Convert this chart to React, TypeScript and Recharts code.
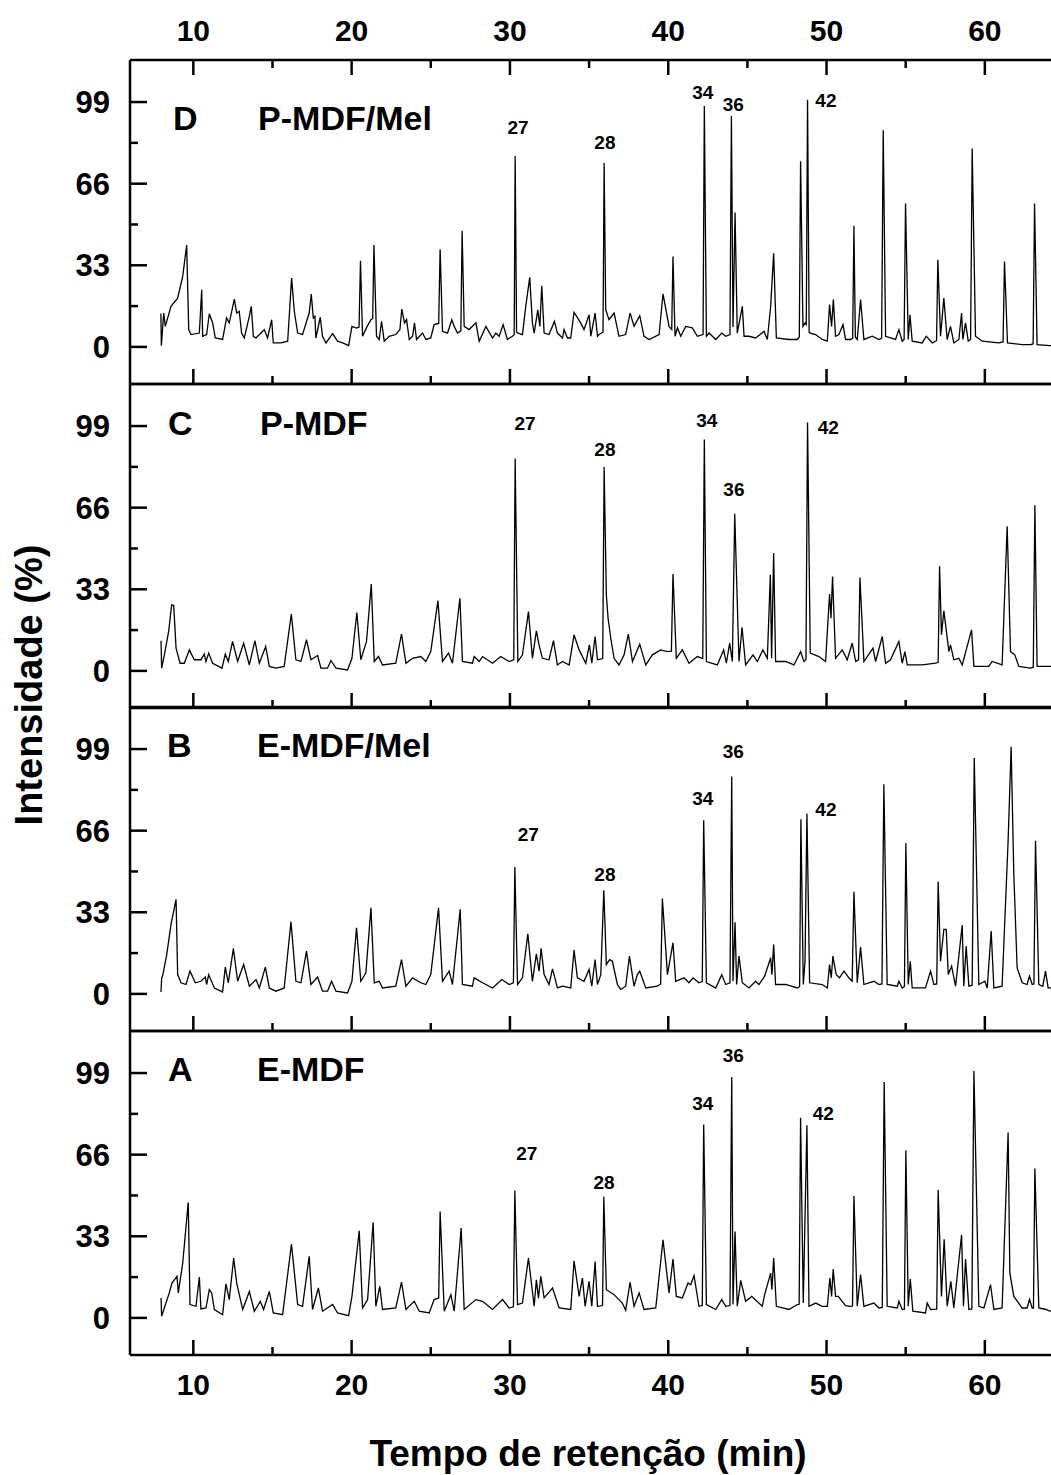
import { LineChart, Line, XAxis, YAxis, ReferenceDot } from 'recharts'

type Pt = [number, number]
type Peak = { n: string; t: number; v: number }

const xTicks = [10, 15, 20, 25, 30, 35, 40, 45, 50, 55, 60]
const yTicks = [0, 16.5, 33, 49.5, 66, 82.5, 99]
const yLabelTicks = [0, 33, 66, 99]

// D: P-MDF/Mel
const pointsD: Pt[] = [
  [7.95, 13.5], [7.98, 0.5], [8.13, 13.7], [8.23, 8.3], [8.59, 16.4], [9.01, 19.7], [9.33, 28.5], [9.58, 41.2],
  [9.71, 7.0], [9.85, 5.0], [10.38, 5.6], [10.53, 23.1], [10.59, 4.3], [10.84, 5.0], [11.01, 13.4], [11.22, 9.7],
  [11.39, 3.6], [11.85, 3.0], [12.1, 11.7], [12.27, 9.7], [12.59, 19.3], [12.74, 13.7], [12.9, 14.4], [13.05, 5.6],
  [13.22, 3.6], [13.54, 12.4], [13.66, 16.4], [13.79, 4.3], [13.96, 3.6], [14.38, 6.3], [14.48, 7.0], [14.69, 3.6],
  [14.95, 11.0], [15.05, 1.6], [15.53, 1.6], [15.96, 2.3], [16.21, 27.8], [16.38, 14.4], [16.59, 5.6], [16.9, 5.0],
  [17.32, 13.7], [17.45, 21.4], [17.58, 11.7], [17.68, 12.4], [17.74, 3.6], [18.02, 12.0], [18.16, 4.3], [18.38, 1.6],
  [18.8, 5.4], [19.11, 2.3], [19.43, 1.6], [19.81, 0.5], [20.02, 8.3], [20.31, 7.6], [20.47, 8.0], [20.56, 34.8],
  [20.69, 4.3], [20.98, 8.3], [21.22, 11.0], [21.33, 11.5], [21.41, 41.2], [21.57, 4.3], [21.74, 3.0], [21.89, 10.3],
  [22.06, 2.3], [22.37, 4.3], [22.79, 5.0], [23.05, 7.0], [23.17, 15.3], [23.34, 9.7], [23.47, 11.0], [23.64, 3.0],
  [23.85, 4.3], [23.97, 9.7], [24.1, 3.0], [24.48, 5.6], [24.69, 3.0], [25.0, 3.6], [25.21, 9.0], [25.5, 9.5],
  [25.59, 39.5], [25.74, 6.3], [26.06, 5.6], [26.33, 11.0], [26.48, 8.3], [26.69, 5.6], [26.9, 6.5], [26.98, 47.0],
  [27.11, 8.3], [27.42, 7.0], [27.85, 9.7], [28.06, 2.3], [28.48, 8.3], [28.9, 3.6], [29.11, 5.6], [29.32, 4.3],
  [29.57, 9.0], [29.84, 3.0], [30.16, 4.3], [30.27, 5.0], [30.33, 77.2], [30.42, 6.0], [30.52, 5.6], [30.79, 5.0],
  [31.0, 16.4], [31.25, 28.1], [31.42, 9.7], [31.53, 5.6], [31.76, 15.0], [31.89, 8.3], [32.01, 24.7], [32.16, 5.6],
  [32.47, 5.0], [32.81, 10.3], [33.0, 5.6], [33.32, 3.6], [33.42, 7.0], [33.63, 3.6], [33.84, 3.6], [34.05, 14.0],
  [34.47, 9.7], [34.68, 7.0], [35.0, 13.0], [35.11, 4.3], [35.38, 13.7], [35.53, 4.3], [35.63, 5.0], [35.88, 6.0],
  [35.95, 74.4], [36.05, 15.0], [36.26, 11.0], [36.58, 13.7], [36.89, 4.3], [37.31, 5.0], [37.59, 13.7], [37.84, 8.3],
  [38.2, 12.6], [38.47, 4.3], [38.79, 3.0], [39.42, 5.0], [39.67, 21.4], [40.05, 8.3], [40.22, 7.0], [40.3, 36.5],
  [40.43, 4.3], [40.58, 7.7], [40.79, 4.3], [41.1, 8.3], [41.52, 7.7], [41.84, 4.3], [42.2, 5.0], [42.28, 97.4],
  [42.41, 4.3], [42.58, 5.6], [43.0, 3.0], [43.38, 5.6], [43.63, 4.3], [43.9, 5.0], [43.99, 93.4], [44.09, 8.0],
  [44.22, 54.3], [44.36, 5.6], [44.68, 16.4], [44.79, 4.3], [45.1, 4.3], [45.52, 3.6], [46.05, 6.3], [46.26, 3.0],
  [46.47, 16.4], [46.66, 37.9], [46.83, 3.6], [47.63, 3.0], [48.15, 3.0], [48.28, 4.0], [48.36, 75.1], [48.51, 8.3],
  [48.64, 9.7], [48.72, 9.0], [48.8, 99.9], [48.9, 6.0], [48.97, 5.6], [49.31, 5.0], [49.73, 3.0], [50.05, 2.3],
  [50.19, 17.1], [50.32, 8.3], [50.43, 19.1], [50.57, 4.3], [50.78, 5.0], [51.04, 9.0], [51.2, 3.0], [51.52, 3.0],
  [51.65, 3.5], [51.73, 49.0], [51.82, 4.0], [51.94, 3.0], [52.15, 19.1], [52.36, 3.0], [52.89, 4.3], [53.31, 3.0],
  [53.48, 3.5], [53.58, 87.6], [53.73, 4.3], [54.36, 3.0], [54.57, 7.0], [54.78, 2.3], [54.9, 3.0], [54.99, 58.0],
  [55.16, 3.0], [55.27, 13.0], [55.41, 2.3], [56.04, 1.6], [56.3, 4.3], [56.68, 1.6], [56.95, 2.5], [57.03, 35.2],
  [57.2, 4.3], [57.41, 19.7], [57.62, 3.0], [57.83, 8.3], [58.04, 1.6], [58.36, 3.0], [58.53, 13.7], [58.61, 3.0],
  [58.78, 9.7], [58.95, 2.3], [59.1, 3.0], [59.2, 80.2], [59.41, 4.3], [59.83, 2.3], [60.88, 1.6], [61.15, 2.0],
  [61.24, 34.5], [61.43, 1.6], [62.36, 0.9], [62.88, 0.9], [63.05, 1.2], [63.14, 58.0], [63.3, 0.9], [64.1, 0.5],
  [64.8, 0.5],
]

// C: P-MDF
const pointsC: Pt[] = [
  [7.96, 12.2], [8.0, 1.1], [8.17, 6.5], [8.44, 15.9], [8.63, 26.7], [8.76, 26.5], [8.91, 9.2], [9.16, 3.1],
  [9.43, 3.1], [9.75, 8.5], [10.06, 4.5], [10.48, 4.5], [10.69, 6.8], [10.8, 3.8], [10.97, 7.2], [11.22, 3.1],
  [11.81, 1.1], [12.02, 6.8], [12.21, 3.8], [12.48, 11.9], [12.8, 3.8], [13.18, 11.2], [13.54, 2.4], [13.89, 12.2],
  [14.17, 3.1], [14.57, 9.9], [14.8, 1.8], [15.22, 1.1], [15.74, 1.8], [16.19, 23.0], [16.48, 4.5], [16.8, 3.8],
  [17.15, 12.6], [17.43, 4.5], [17.85, 6.2], [18.06, 1.1], [18.48, 1.1], [18.69, 4.2], [19.01, 1.1], [19.74, 0.4],
  [20.02, 5.1], [20.33, 23.6], [20.58, 4.5], [20.94, 11.9], [21.24, 35.1], [21.43, 3.8], [21.7, 5.8], [21.95, 2.4],
  [22.79, 3.1], [23.15, 14.9], [23.43, 3.1], [23.85, 5.1], [24.37, 5.8], [24.69, 3.8], [25.0, 7.8], [25.45, 28.4],
  [25.74, 3.8], [26.12, 7.2], [26.37, 3.1], [26.84, 29.4], [27.0, 3.8], [27.63, 3.1], [27.74, 5.8], [28.06, 3.8],
  [28.27, 5.8], [28.9, 3.1], [29.42, 5.8], [29.95, 3.8], [30.24, 4.5], [30.33, 85.9], [30.5, 3.8], [30.79, 6.5],
  [31.17, 24.0], [31.42, 5.1], [31.67, 16.2], [31.84, 10.5], [32.05, 5.1], [32.47, 4.5], [32.75, 12.2], [33.0, 2.4],
  [33.32, 3.8], [33.74, 2.4], [34.05, 14.6], [34.37, 8.5], [34.79, 3.1], [35.02, 10.5], [35.17, 3.1], [35.38, 13.9],
  [35.53, 4.5], [35.86, 5.0], [35.95, 82.4], [36.09, 30.8], [36.2, 21.3], [36.37, 13.2], [36.58, 5.1], [36.89, 2.4],
  [37.21, 6.5], [37.48, 14.9], [37.74, 3.8], [38.2, 10.8], [38.58, 2.4], [39.0, 6.5], [39.52, 8.5], [39.95, 7.8],
  [40.2, 8.0], [40.3, 39.2], [40.51, 5.1], [40.89, 8.5], [41.31, 3.1], [41.84, 5.8], [42.18, 5.0], [42.28, 93.6],
  [42.41, 3.8], [43.1, 2.4], [43.5, 8.5], [43.67, 3.1], [43.88, 11.2], [44.05, 3.8], [44.2, 63.5], [44.47, 3.8],
  [44.66, 17.6], [44.89, 2.4], [45.35, 6.5], [45.63, 3.8], [45.98, 8.5], [46.26, 5.1], [46.45, 38.9], [46.53, 5.1],
  [46.66, 47.7], [46.78, 3.8], [47.42, 3.8], [47.94, 2.4], [48.36, 7.8], [48.57, 3.8], [48.7, 4.5], [48.8, 100.4],
  [48.97, 7.2], [49.52, 5.8], [49.94, 3.8], [50.19, 31.1], [50.28, 21.3], [50.38, 38.2], [50.57, 5.1], [50.99, 8.5],
  [51.31, 4.5], [51.62, 11.2], [51.84, 3.8], [52.02, 4.5], [52.11, 37.8], [52.36, 3.8], [52.93, 9.2], [53.1, 3.8],
  [53.52, 13.9], [53.73, 3.1], [54.04, 4.5], [54.57, 11.9], [54.78, 3.1], [54.95, 7.8], [55.1, 2.4], [56.04, 2.4],
  [56.89, 3.1], [57.05, 3.5], [57.14, 42.3], [57.26, 14.6], [57.41, 24.3], [57.73, 7.8], [57.83, 10.5], [58.04, 4.5],
  [58.36, 5.1], [58.57, 2.4], [59.16, 16.6], [59.31, 1.8], [60.25, 1.8], [60.46, 3.8], [61.09, 2.4], [61.41, 58.5],
  [61.62, 7.8], [61.89, 6.5], [62.15, 1.8], [62.88, 1.1], [63.06, 1.5], [63.16, 67.0], [63.3, 1.8], [64.1, 1.8],
  [64.8, 1.8],
]

// B: E-MDF/Mel
const pointsB: Pt[] = [
  [7.96, 0.8], [8.0, 6.5], [8.06, 7.2], [8.32, 15.9], [8.59, 28.1], [8.91, 38.2], [9.01, 7.8], [9.22, 4.5],
  [9.54, 3.8], [9.79, 9.2], [10.13, 4.5], [10.48, 5.1], [10.76, 6.8], [10.84, 3.8], [10.97, 7.8], [11.33, 2.4],
  [11.85, 0.8], [12.02, 10.8], [12.21, 4.5], [12.53, 18.4], [12.8, 5.1], [13.18, 11.9], [13.54, 3.1], [13.96, 5.8],
  [14.17, 2.4], [14.55, 10.8], [14.8, 2.4], [15.22, 1.1], [15.74, 2.4], [16.17, 29.2], [16.48, 5.1], [16.8, 4.5],
  [17.15, 17.3], [17.43, 3.8], [17.85, 6.8], [18.16, 1.1], [18.48, 1.1], [18.73, 5.1], [19.01, 1.1], [19.74, 0.4],
  [20.02, 5.1], [20.31, 26.7], [20.58, 5.1], [20.9, 8.5], [21.22, 34.8], [21.43, 4.5], [21.74, 5.1], [21.95, 2.4],
  [22.79, 3.1], [23.15, 13.9], [23.43, 3.1], [23.85, 6.5], [24.37, 4.5], [24.69, 3.8], [25.0, 7.8], [25.49, 34.8],
  [25.74, 5.1], [26.16, 9.2], [26.37, 3.8], [26.86, 34.2], [27.0, 3.8], [27.63, 3.1], [27.74, 6.5], [28.27, 4.5],
  [28.9, 2.4], [29.49, 5.8], [29.95, 3.8], [30.22, 4.5], [30.31, 51.3], [30.48, 3.8], [30.79, 6.5], [31.13, 24.3],
  [31.42, 5.1], [31.67, 16.2], [31.84, 9.2], [31.97, 18.4], [32.16, 7.8], [32.47, 3.8], [32.69, 10.1], [33.0, 2.4],
  [33.32, 3.1], [33.84, 2.4], [34.05, 17.7], [34.26, 6.5], [34.68, 5.1], [35.0, 9.9], [35.17, 3.1], [35.38, 13.9],
  [35.53, 3.8], [35.74, 7.8], [35.93, 41.9], [36.09, 11.9], [36.3, 13.9], [36.47, 13.2], [36.79, 3.8], [37.0, 1.8],
  [37.31, 3.1], [37.55, 15.3], [37.84, 3.1], [38.05, 7.8], [38.2, 9.2], [38.58, 2.4], [39.31, 3.1], [39.52, 4.0],
  [39.63, 38.6], [39.95, 7.8], [40.3, 20.7], [40.47, 5.1], [41.0, 6.5], [41.31, 4.5], [41.57, 6.5], [41.94, 4.5],
  [42.15, 5.0], [42.24, 70.2], [42.41, 4.5], [43.0, 2.4], [43.38, 7.8], [43.63, 3.8], [43.9, 4.5], [44.01, 87.9],
  [44.09, 5.1], [44.22, 29.0], [44.32, 3.8], [44.47, 15.3], [44.68, 4.5], [45.1, 2.4], [45.52, 5.1], [45.73, 3.8],
  [46.09, 7.2], [46.47, 14.6], [46.55, 7.8], [46.66, 20.0], [46.78, 3.8], [47.42, 3.8], [48.15, 2.4], [48.3, 3.0],
  [48.38, 70.6], [48.53, 3.8], [48.64, 13.2], [48.76, 72.9], [48.93, 4.5], [49.73, 3.8], [50.05, 2.4], [50.19, 11.9],
  [50.3, 6.5], [50.4, 15.3], [50.61, 7.8], [50.82, 6.5], [51.1, 9.2], [51.41, 6.5], [51.62, 5.1], [51.73, 41.3],
  [51.94, 4.5], [52.15, 18.9], [52.36, 3.8], [52.99, 5.1], [53.31, 3.8], [53.5, 4.0], [53.62, 84.8], [53.83, 3.8],
  [54.47, 3.1], [54.57, 5.1], [54.78, 2.4], [54.92, 3.0], [55.01, 61.0], [55.16, 3.8], [55.29, 13.2], [55.41, 2.4],
  [56.25, 2.4], [56.57, 9.2], [56.78, 3.8], [56.96, 4.0], [57.05, 45.4], [57.2, 13.2], [57.41, 26.1], [57.56, 26.1],
  [57.69, 7.8], [57.9, 11.2], [58.15, 3.1], [58.57, 27.8], [58.67, 3.1], [58.82, 19.3], [58.99, 3.1], [59.2, 3.5],
  [59.33, 95.4], [59.62, 3.8], [60.0, 5.1], [60.15, 2.4], [60.4, 25.4], [60.57, 2.4], [61.09, 3.1], [61.47, 61.9],
  [61.66, 99.9], [61.83, 48.4], [62.04, 10.5], [62.36, 4.5], [62.67, 3.8], [62.82, 7.2], [62.99, 3.8], [63.1, 4.0],
  [63.2, 61.9], [63.41, 3.8], [63.66, 3.1], [63.83, 9.2], [64.0, 2.4], [64.8, 2.4],
]

// A: E-MDF
const pointsA: Pt[] = [
  [7.96, 8.1], [8.0, 0.7], [8.17, 4.0], [8.48, 10.1], [8.65, 14.1], [8.97, 16.8], [9.05, 10.1], [9.33, 22.2],
  [9.68, 46.7], [9.79, 5.4], [10.17, 4.7], [10.38, 16.5], [10.48, 3.6], [10.8, 4.0], [11.01, 11.4], [11.16, 10.1],
  [11.33, 3.4], [11.85, 1.3], [12.06, 13.8], [12.27, 7.4], [12.55, 24.2], [12.74, 14.1], [13.12, 3.4], [13.54, 10.7],
  [13.85, 2.7], [14.23, 6.7], [14.44, 3.4], [14.8, 10.7], [15.05, 2.0], [15.64, 1.3], [16.2, 29.8], [16.59, 5.4],
  [16.9, 4.7], [17.32, 24.9], [17.53, 3.4], [17.9, 12.1], [18.16, 2.7], [18.8, 5.4], [19.11, 2.0], [19.81, 0.9],
  [20.02, 8.7], [20.48, 35.2], [20.69, 4.0], [21.01, 7.4], [21.36, 38.7], [21.53, 4.7], [21.78, 12.8], [21.95, 3.4],
  [22.79, 4.0], [23.15, 14.5], [23.43, 3.4], [23.96, 6.7], [24.27, 2.7], [24.9, 2.0], [25.21, 7.4], [25.5, 8.0],
  [25.59, 43.0], [25.85, 2.7], [26.27, 9.4], [26.48, 2.7], [26.92, 36.3], [27.11, 3.4], [27.85, 7.4], [28.27, 6.7],
  [28.9, 3.4], [29.53, 7.4], [29.95, 4.0], [30.22, 4.5], [30.31, 51.5], [30.48, 5.4], [30.79, 6.0], [31.17, 24.2],
  [31.53, 4.7], [31.67, 15.4], [31.8, 8.0], [31.95, 16.8], [32.16, 8.1], [32.69, 12.1], [33.11, 4.0], [33.84, 3.4],
  [34.05, 23.1], [34.37, 8.7], [34.58, 16.1], [34.75, 4.7], [35.0, 14.8], [35.17, 4.7], [35.38, 22.8], [35.53, 4.7],
  [35.85, 5.0], [35.93, 49.0], [36.09, 11.4], [36.58, 9.4], [37.1, 6.0], [37.31, 3.1], [37.59, 14.4], [37.84, 4.7],
  [38.16, 10.1], [38.47, 3.4], [39.21, 4.0], [39.67, 31.6], [40.05, 10.1], [40.3, 23.8], [40.51, 8.7], [40.89, 8.1],
  [41.25, 14.1], [41.42, 13.4], [41.63, 17.1], [41.94, 4.7], [42.15, 5.0], [42.24, 78.2], [42.41, 5.4], [43.0, 3.4],
  [43.38, 7.4], [43.63, 4.7], [43.9, 5.0], [44.01, 97.4], [44.09, 5.4], [44.22, 34.9], [44.36, 4.7], [44.58, 15.2],
  [44.89, 6.7], [45.27, 8.7], [45.94, 4.7], [46.09, 9.4], [46.47, 18.1], [46.55, 11.4], [46.66, 24.2], [46.83, 4.7],
  [47.63, 3.4], [48.15, 5.4], [48.27, 5.5], [48.36, 80.9], [48.53, 6.0], [48.76, 77.9], [48.89, 4.7], [49.31, 6.0],
  [49.73, 4.7], [50.05, 4.7], [50.21, 16.1], [50.32, 8.7], [50.42, 19.7], [50.57, 8.7], [50.74, 8.7], [51.2, 5.0],
  [51.52, 4.7], [51.64, 4.8], [51.73, 49.3], [51.94, 4.7], [52.15, 17.5], [52.36, 4.7], [52.99, 6.0], [53.31, 4.0],
  [53.52, 4.2], [53.64, 95.4], [53.83, 4.7], [54.47, 4.0], [54.57, 6.7], [54.78, 3.4], [54.92, 3.5], [55.01, 67.8],
  [55.16, 4.7], [55.29, 15.7], [55.45, 2.7], [56.25, 2.0], [56.36, 6.0], [56.57, 3.4], [56.96, 3.5], [57.05, 51.7],
  [57.26, 8.7], [57.43, 31.8], [57.62, 4.7], [57.85, 14.8], [58.04, 4.0], [58.53, 33.6], [58.65, 4.7], [58.78, 23.8],
  [58.99, 3.4], [59.18, 3.6], [59.31, 99.8], [59.62, 4.7], [59.94, 4.0], [60.36, 13.4], [60.57, 3.4], [61.09, 4.0],
  [61.47, 75.0], [61.58, 18.1], [61.83, 8.7], [62.36, 4.0], [62.67, 4.0], [62.82, 7.4], [62.99, 4.0], [63.07, 4.0],
  [63.16, 60.4], [63.41, 4.0], [63.87, 3.4], [64.1, 2.7], [64.8, 2.7],
]

const peaksD: Peak[] = [
  { n: '27', t: 30.51, v: 89 }, { n: '28', t: 36.0, v: 83 }, { n: '34', t: 42.18, v: 103 },
  { n: '36', t: 44.11, v: 98.2 }, { n: '42', t: 49.96, v: 99.9 },
]
const peaksC: Peak[] = [
  { n: '27', t: 30.95, v: 100.3 }, { n: '28', t: 36.0, v: 89.6 }, { n: '34', t: 42.43, v: 101.4 },
  { n: '36', t: 44.15, v: 73.4 }, { n: '42', t: 50.11, v: 98.5 },
]
const peaksB: Peak[] = [
  { n: '27', t: 31.16, v: 64.7 }, { n: '28', t: 36.0, v: 48.6 }, { n: '34', t: 42.18, v: 79.2 },
  { n: '36', t: 44.11, v: 98.1 }, { n: '42', t: 49.96, v: 74.8 },
]
const peaksA: Peak[] = [
  { n: '27', t: 31.06, v: 66.6 }, { n: '28', t: 35.94, v: 55.1 }, { n: '34', t: 42.18, v: 87.0 },
  { n: '36', t: 44.11, v: 106.3 }, { n: '42', t: 49.8, v: 82.7 },
]

const FONT = "'Liberation Sans', Arial, Helvetica, sans-serif"
const axisStyle = { stroke: '#000', strokeWidth: 2.5 }
const PANEL_H = 324

const panels = [
  { letter: 'D', name: 'P-MDF/Mel', points: pointsD, peaks: peaksD, top: 60, letterT: 8.72, nameT: 14.09, labelV: 87.7 },
  { letter: 'C', name: 'P-MDF', points: pointsC, peaks: peaksC, top: 384, letterT: 8.4, nameT: 14.21, labelV: 95.4 },
  { letter: 'B', name: 'E-MDF/Mel', points: pointsB, peaks: peaksB, top: 707, letterT: 8.34, nameT: 14.02, labelV: 95.8 },
  { letter: 'A', name: 'E-MDF', points: pointsA, peaks: peaksA, top: 1031, letterT: 8.4, nameT: 14.02, labelV: 95.9 },
]

const bottomTick = (withLabel: boolean) => (p: any) => {
  const major = p.payload.value % 10 === 0
  return (
    <g>
      <line x1={p.x} x2={p.x} y1={p.y} y2={p.y - (major ? 15 : 8)} stroke="#000" strokeWidth={2.5} />
      {withLabel && major && (
        <text x={p.x} y={p.y + 40} textAnchor="middle" fontFamily={FONT} fontWeight="bold" fontSize={30} fill="#000">
          {p.payload.value}
        </text>
      )}
    </g>
  )
}

const topTick = (p: any) => {
  const major = p.payload.value % 10 === 0
  return (
    <g>
      <line x1={p.x} x2={p.x} y1={p.y} y2={p.y + (major ? 15 : 8)} stroke="#000" strokeWidth={2.5} />
      {major && (
        <text x={p.x} y={p.y - 19} textAnchor="middle" fontFamily={FONT} fontWeight="bold" fontSize={30} fill="#000">
          {p.payload.value}
        </text>
      )}
    </g>
  )
}

const leftTick = (p: any) => {
  const major = yLabelTicks.includes(p.payload.value)
  return (
    <g>
      <line x1={p.x} x2={p.x + (major ? 17 : 8)} y1={p.y} y2={p.y} stroke="#000" strokeWidth={2.5} />
      {major && (
        <text x={p.x - 20} y={p.y + 11} textAnchor="end" fontFamily={FONT} fontWeight="bold" fontSize={31} fill="#000">
          {p.payload.value}
        </text>
      )}
    </g>
  )
}

function Panel({ cfg, first, last }: { cfg: (typeof panels)[number]; first: boolean; last: boolean }) {
  const data = cfg.points.map(([t, v]) => ({ t, v }))
  return (
    <div style={{ position: 'absolute', left: 0, top: cfg.top - 60 }}>
      <LineChart width={1100} height={PANEL_H + 180} data={data} margin={{ top: 59, right: 36, bottom: 119, left: 70 }}>
        <XAxis
          xAxisId="b"
          dataKey="t"
          type="number"
          domain={[6, 65]}
          ticks={xTicks}
          interval={0}
          height={1}
          tickSize={0}
          tickMargin={0}
          axisLine={axisStyle}
          tickLine={false}
          tick={bottomTick(last)}
          allowDataOverflow
        />
        <XAxis
          xAxisId="t"
          orientation="top"
          dataKey="t"
          type="number"
          domain={[6, 65]}
          ticks={xTicks}
          interval={0}
          height={1}
          tickSize={0}
          tickMargin={0}
          axisLine={axisStyle}
          tickLine={false}
          tick={first ? topTick : false}
          allowDataOverflow
        />
        <YAxis
          type="number"
          domain={[-15, 116]}
          ticks={yTicks}
          interval={0}
          width={60}
          tickSize={0}
          tickMargin={0}
          axisLine={axisStyle}
          tickLine={false}
          tick={leftTick}
          allowDataOverflow
        />
        <Line
          xAxisId="b"
          dataKey="v"
          type="linear"
          stroke="#000"
          strokeWidth={1.3}
          dot={false}
          isAnimationActive={false}
        />
        {cfg.peaks.map((pk) => (
          <ReferenceDot
            key={pk.n}
            xAxisId="b"
            x={pk.t}
            y={pk.v}
            r={0}
            ifOverflow="visible"
            shape={(s: any) => (
              <text x={s.cx} y={s.cy + 7} textAnchor="middle" fontFamily={FONT} fontWeight="bold" fontSize={19} fill="#000">
                {pk.n}
              </text>
            )}
          />
        ))}
        <ReferenceDot
          xAxisId="b"
          x={cfg.letterT}
          y={cfg.labelV}
          r={0}
          ifOverflow="visible"
          shape={(s: any) => (
            <text x={s.cx} y={s.cy} fontFamily={FONT} fontWeight="bold" fontSize={34} fill="#000">
              {cfg.letter}
            </text>
          )}
        />
        <ReferenceDot
          xAxisId="b"
          x={cfg.nameT}
          y={cfg.labelV}
          r={0}
          ifOverflow="visible"
          shape={(s: any) => (
            <text x={s.cx} y={s.cy} fontFamily={FONT} fontWeight="bold" fontSize={34} fill="#000">
              {cfg.name}
            </text>
          )}
        />
      </LineChart>
    </div>
  )
}

export default function App() {
  return (
    <div style={{ position: 'absolute', left: 0, top: 0, width: 1051, height: 1475, overflow: 'hidden', background: '#fff' }}>
      {panels.map((cfg, i) => (
        <Panel key={cfg.letter} cfg={cfg} first={i === 0} last={i === panels.length - 1} />
      ))}
      <svg width={1051} height={1475} style={{ position: 'absolute', left: 0, top: 0, pointerEvents: 'none' }}>
        <text
          transform="translate(42,685) rotate(-90)"
          textAnchor="middle"
          fontFamily={FONT}
          fontWeight="bold"
          fontSize={38}
          fill="#000"
        >
          Intensidade (%)
        </text>
        <text x={588} y={1466} textAnchor="middle" fontFamily={FONT} fontWeight="bold" fontSize={37} fill="#000">
          Tempo de retenção (min)
        </text>
      </svg>
    </div>
  )
}
